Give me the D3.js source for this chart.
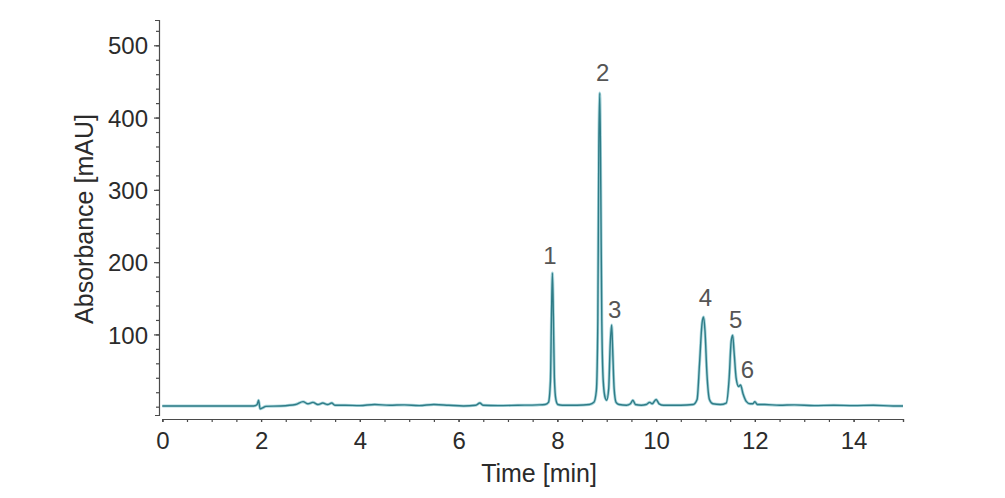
<!DOCTYPE html>
<html>
  <head>
    <meta charset="utf-8">
    <script src="https://d3js.org/d3.v7.min.js"></script>
    <title>Chromatogram</title>
    <style>
      body { margin: 0px; background: #fff; }
      .tick text {
        fill: #2b2b2b;
        font-size: 24px;
        font-family: 'Liberation Sans', Arial, sans-serif;
      }
      .axis path, .axis line { stroke: #4a4a4a; stroke-width: 1.2px; }
      .axis-label {
        fill: #2b2b2b;
        font-size: 25px;
        font-family: 'Liberation Sans', Arial, sans-serif;
      }
      .peak-label {
        fill: #555;
        font-size: 24px;
        font-family: 'Liberation Sans', Arial, sans-serif;
        text-anchor: middle;
      }
    </style>
  </head>
  <body>
    <script>
      // trace: time [min], absorbance [mAU]
      const times = [
        0, 0.5, 1.0, 1.5, 1.85, 1.92, 1.95, 1.98, 2.02, 2.1, 2.4, 2.7, 2.85, 2.95, 3.05, 3.15,
        3.25, 3.35, 3.43, 3.5, 3.7, 4.0, 4.3, 4.6, 4.9, 5.2, 5.5, 5.8, 6.1, 6.35, 6.43, 6.5,
        6.8, 7.2, 7.6, 7.75, 7.82, 7.86, 7.88, 7.9, 7.92, 7.94, 7.97, 8.01, 8.1, 8.4, 8.65,
        8.74, 8.79, 8.82, 8.84, 8.86, 8.88, 8.9, 8.93, 8.97, 9.0, 9.04, 9.07, 9.1, 9.12, 9.15,
        9.19, 9.25, 9.4, 9.48, 9.53, 9.58, 9.7, 9.8, 9.87, 9.92, 10.0, 10.06, 10.15, 10.5,
        10.75, 10.83, 10.88, 10.93, 10.96, 10.99, 11.03, 11.08, 11.15, 11.3, 11.42, 11.48,
        11.52, 11.55, 11.58, 11.62, 11.67, 11.71, 11.76, 11.83, 11.9, 11.96, 12.0, 12.05,
        12.2, 12.5, 12.8, 13.2, 13.6, 14.0, 14.4, 14.8, 15.0
      ];
      const absorbance = [
        1, 1, 1, 1, 1, 3, 9, -3, -2, 0.5, 1, 3, 7, 4, 6, 3,
        5, 3, 5, 2, 2, 1.5, 3, 2, 2.5, 1.5, 3, 2, 1, 2, 5, 2,
        1.5, 2, 2.5, 3, 6, 35, 120, 185, 125, 40, 10, 3, 2, 2, 3,
        6, 22, 120, 360, 434, 300, 120, 35, 12, 9, 25, 85, 113, 80, 25,
        6, 3, 2, 4, 9, 3, 2, 3, 6, 4, 10, 4, 2, 2,
        3, 10, 60, 115, 124, 105, 45, 10, 4, 3, 5, 40,
        90, 99, 75, 40, 28, 30, 18, 7, 4, 4, 7, 3,
        3, 2, 2.5, 1.5, 2, 1.5, 2, 1, 1
      ];

      const peakNames = ['1', '2', '3', '4', '5', '6'];
      const peakLabelTimes = [7.85, 8.92, 9.16, 11.0, 11.61, 11.85];
      const peakLabelValues = [197, 450, 123, 139, 109, 40];

      const xTicks = [0, 2, 4, 6, 8, 10, 12, 14];
      const yTicks = [100, 200, 300, 400, 500];

      const width = 1005, height = 498;
      const svg = d3.select('body').append('svg')
        .attr('width', width)
        .attr('height', height);

      const xScale = d3.scaleLinear().domain([0, 15]).range([162.3, 903]);
      const yScale = d3.scaleLinear().domain([-11.5, 535]).range([415, 20]);

      // y axis: minor ticks every 20, labels every 100
      const yMinor = d3.range(0, 535, 20);
      svg.append('g')
        .attr('class', 'axis')
        .attr('transform', 'translate(159,0)')
        .call(d3.axisLeft(yScale).tickValues(yMinor).tickSize(3).tickSizeOuter(4).tickFormat(''));
      svg.append('g')
        .attr('class', 'axis')
        .attr('transform', 'translate(159,0)')
        .call(d3.axisLeft(yScale).tickValues(yTicks).tickSize(5).tickSizeOuter(0).tickPadding(6))
        .call(g => g.select('.domain').remove())
        .selectAll('.tick text').attr('dy', '0.36em');

      // x axis: minor every 0.5, labels every 2
      const xMinor = d3.range(0, 15.01, 0.5);
      svg.append('g')
        .attr('class', 'axis')
        .attr('transform', 'translate(0,419)')
        .call(d3.axisBottom(xScale).tickValues(xMinor).tickSize(3).tickSizeOuter(3).tickFormat(''));
      svg.append('g')
        .attr('class', 'axis')
        .attr('transform', 'translate(0,419)')
        .call(d3.axisBottom(xScale).tickValues(xTicks).tickSize(3).tickSizeOuter(0).tickPadding(10))
        .call(g => g.select('.domain').remove());

      svg.append('text')
        .attr('class', 'axis-label')
        .attr('x', 539)
        .attr('y', 482)
        .attr('text-anchor', 'middle')
        .text('Time [min]');

      svg.append('text')
        .attr('class', 'axis-label')
        .attr('transform', 'translate(93,219) rotate(-90)')
        .attr('text-anchor', 'middle')
        .text('Absorbance [mAU]');

      const data = times.map((t, i) => ({ t: t, v: absorbance[i] }));
      const line = d3.line()
        .x(d => xScale(d.t))
        .y(d => yScale(d.v))
        .curve(d3.curveMonotoneX);

      // soft halo under the trace
      svg.append('path')
        .datum(data)
        .attr('fill', 'none')
        .attr('stroke', '#a9d6dc')
        .attr('stroke-width', 3)
        .attr('stroke-linejoin', 'round')
        .attr('d', line);
      svg.append('path')
        .datum(data)
        .attr('fill', 'none')
        .attr('stroke', '#2f7c87')
        .attr('stroke-width', 1.4)
        .attr('stroke-linejoin', 'round')
        .attr('d', line);

      svg.selectAll('.peak-label')
        .data(peakNames)
        .enter().append('text')
          .attr('class', 'peak-label')
          .attr('x', (d, i) => xScale(peakLabelTimes[i]))
          .attr('y', (d, i) => yScale(peakLabelValues[i]))
          .text(d => d);
    </script>
  </body>
</html>
